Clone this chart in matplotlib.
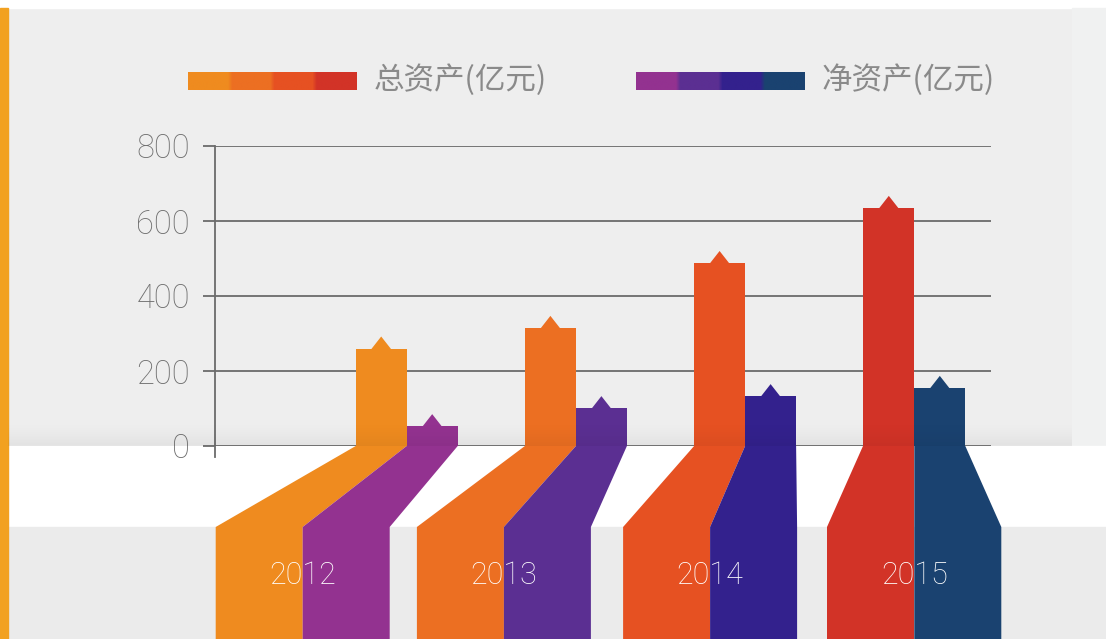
import numpy as np
import matplotlib.pyplot as plt
from matplotlib.patches import Rectangle
from matplotlib.colors import to_rgb

plt.rcParams['font.family'] = ['Noto Sans CJK SC', 'DejaVu Sans']

years = ['2012', '2013', '2014', '2015']
total_assets = [260, 315, 488, 635]
net_assets = [53, 101, 133, 155]
total_colors = ['#EF8B1F', '#EC6F22', '#E65122', '#D23327']
net_colors = ['#933290', '#5B2F92', '#33218D', '#1A4270']
legend_labels = ['总资产(亿元)', '净资产(亿元)']
yticks = [0, 200, 400, 600, 800]

W, H = 1106, 639
fig = plt.figure(figsize=(W / 100, H / 100), dpi=100)
fig.patch.set_facecolor('#EEEEEE')

# background, pixel coordinates
bg = fig.add_axes([0, 0, 1, 1], zorder=0)
bg.axis('off')
bg.add_patch(Rectangle((0, 0), W, 8, color='white'))
bg.add_patch(Rectangle((1072, 8), W - 1072, H, color='#F0F1F1'))
bg.add_patch(Rectangle((0, 446), W, 81, color='white'))
bg.add_patch(Rectangle((0, 527), W, H - 527, color='#EBEBEB'))
bg.add_patch(Rectangle((0, 8), 8, H, color='#F2A120'))

# legend with gradient swatches
for i, (label, cols) in enumerate(zip(legend_labels, [total_colors, net_colors])):
    x = 188 + i * 448
    grad = np.repeat(np.array([to_rgb(c) for c in cols])[None, :, :], 10, axis=1)
    bg.imshow(grad, extent=(x, x + 169, 90, 72), aspect='auto', interpolation='bilinear')
    bg.text(x + 186, 80, label, fontsize=22, color='#8A8A8A', va='center', ha='left',
            fontweight='light')
bg.set_xlim(0, W)
bg.set_ylim(H, 0)

# chart
step = 169.2
x0 = 406.7
ax = fig.add_axes([215 / W, (H - 446) / H, (991 - 215) / W, 300 / H], zorder=2)
ax.patch.set_alpha(0)
ax.set_xlim((215 - x0) / step, (991 - x0) / step)
ax.set_ylim(0, 800)
ypx = 800 / 300

pos = np.arange(len(years))
w = 51 / step
wb = 87 / step
shift = np.array([-104, -72, -35, 0]) / step
y_knee = -81 * ypx
y_bot = -200 * ypx
tip = 12 * ypx
hw = 10 / step

ax.bar(pos - w / 2, total_assets, w, color=total_colors, zorder=3)
ax.bar(pos + w / 2, net_assets, w, color=net_colors, zorder=3)

for i in range(len(years)):
    b = pos[i] + shift[i]
    # slanted legs down to the year band
    ax.fill([pos[i] - w, pos[i], b, b, b - wb, b - wb],
            [0, 0, y_knee, y_bot, y_bot, y_knee],
            color=total_colors[i], lw=0, clip_on=False, zorder=3)
    ax.fill([pos[i], pos[i] + w, b + wb, b + wb, b, b],
            [0, 0, y_knee, y_bot, y_bot, y_knee],
            color=net_colors[i], lw=0, clip_on=False, zorder=3)
    # little arrow tips
    c1 = pos[i] - w / 2
    c2 = pos[i] + w / 2
    ax.fill([c1 - hw, c1, c1 + hw], [total_assets[i] - 2, total_assets[i] + tip, total_assets[i] - 2],
            color=total_colors[i], lw=0, zorder=3)
    ax.fill([c2 - hw, c2, c2 + hw], [net_assets[i] - 2, net_assets[i] + tip, net_assets[i] - 2],
            color=net_colors[i], lw=0, zorder=3)
    ax.text(b, -129 * ypx, years[i], color='white', ha='center', va='center',
            fontsize=22, family='Roboto', fontweight='light', clip_on=False, zorder=4)

ax.set_xticks([])
ax.set_yticks(yticks)
ax.set_yticklabels([str(t) for t in yticks], family='Roboto', fontweight='light')
ax.tick_params(axis='y', length=9, width=1.3, color='#6B6B6B', labelcolor='#6E6E6E',
               labelsize=23.5, pad=9)
ax.grid(axis='y', color='#6B6B6B', lw=1.3)
ax.set_axisbelow(True)
for s in ['top', 'right', 'bottom']:
    ax.spines[s].set_visible(False)
ax.spines['left'].set_color('#6B6B6B')
ax.spines['left'].set_linewidth(1.3)
ax.spines['left'].set_bounds(-30, 800)

# soft shadow above the zero line
fg = fig.add_axes([0, 0, 1, 1], zorder=3)
fg.patch.set_alpha(0)
fg.axis('off')
shade = np.zeros((30, 1, 4))
shade[:, 0, 3] = np.linspace(0, 0.05, 30) ** 1.5 / 0.05 ** 0.5
fg.imshow(shade, extent=(8, 1072, 446, 420), aspect='auto', interpolation='bilinear')
fg.set_xlim(0, W)
fg.set_ylim(H, 0)

fig.savefig('out.png', dpi=100)
